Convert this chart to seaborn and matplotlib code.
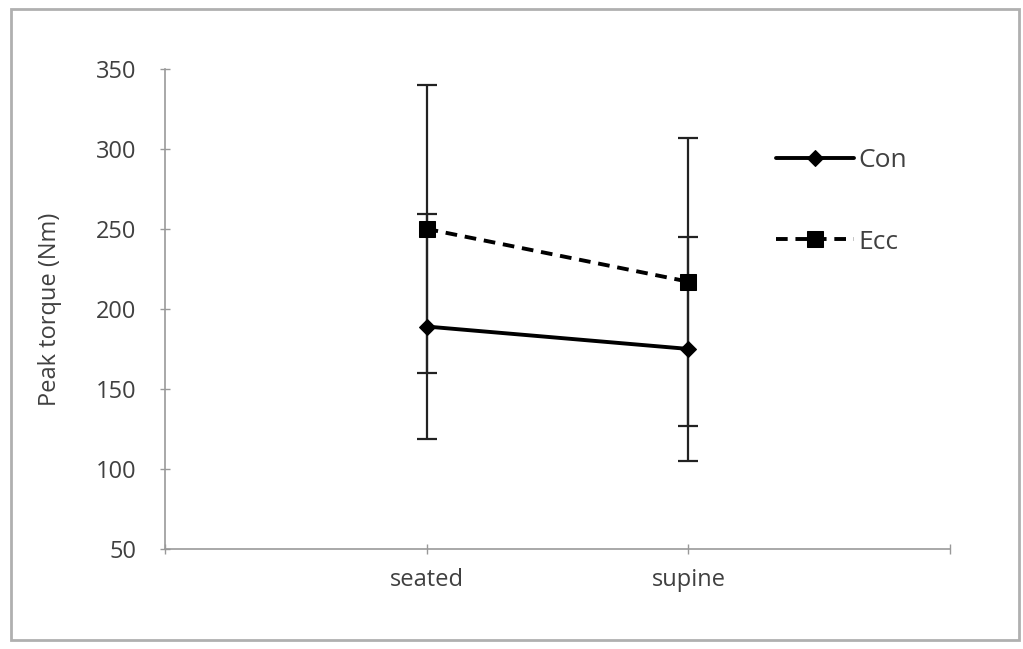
import pandas as pd
import seaborn as sns
import matplotlib.pyplot as plt
from matplotlib.patches import Rectangle

# values
positions = ['seated', 'supine']
con_mean = [189, 175]
con_sd = [70, 70]
ecc_mean = [250, 217]
ecc_sd = [90, 90]

df = pd.DataFrame({
    'position': positions * 2,
    'torque': con_mean + ecc_mean,
    'sd': con_sd + ecc_sd,
    'mode': ['Con'] * 2 + ['Ecc'] * 2,
})

sns.set_style('white')
plt.rcParams['font.family'] = ['Open Sans', 'DejaVu Sans']

fig = plt.figure(figsize=(10.23, 6.49), dpi=100)
ax = fig.add_axes([0.161, 0.154, 0.768, 0.740])

# gray frame round the whole picture
fig.patches.append(Rectangle((0.011, 0.014), 0.985, 0.972, transform=fig.transFigure,
                             fill=False, edgecolor='#b0b0b0', linewidth=2))

# error bars first so markers sit on top
for mode, grp in df.groupby('mode'):
    ax.errorbar(grp['position'], grp['torque'], yerr=grp['sd'], fmt='none',
                ecolor='#222222', elinewidth=1.6, capsize=7, capthick=1.6, zorder=2)

sns.lineplot(data=df, x='position', y='torque', hue='mode', style='mode',
             markers={'Con': 'D', 'Ecc': 's'}, dashes={'Con': '', 'Ecc': (3, 2)},
             palette={'Con': 'black', 'Ecc': 'black'}, linewidth=2.8,
             markersize=10, markeredgecolor='black', ax=ax, zorder=3)
for line in ax.lines:
    if line.get_marker() == 'D':
        line.set_markersize(8)
    elif line.get_marker() == 's':
        line.set_markersize(12)

ax.set_xlim(-1, 2)
ax.set_ylim(50, 350)
ax.set_yticks(range(50, 351, 50))
ax.set_xticks([-1, 0, 1, 2])
ax.set_xticklabels(['', 'seated', 'supine', ''])

ax.set_xlabel('')
ax.set_ylabel('Peak torque (Nm)', fontsize=17, color='#404040', labelpad=24)
ax.tick_params(axis='both', labelsize=17, labelcolor='#404040', color='#999999',
               length=7, width=1, direction='inout', left=True, bottom=True)
ax.tick_params(axis='y', pad=17)
ax.tick_params(axis='x', pad=10)

for side in ['top', 'right']:
    ax.spines[side].set_visible(False)
for side in ['left', 'bottom']:
    ax.spines[side].set_color('#999999')
    ax.spines[side].set_linewidth(1.2)

leg = ax.legend(loc='upper left', bbox_to_anchor=(0.748, 0.885), frameon=False,
                fontsize=19, labelspacing=2.15, handlelength=2.95, handletextpad=0.15,
                title=None)
for t in leg.get_texts():
    t.set_color('#404040')

fig.savefig('out.png', dpi=100)
